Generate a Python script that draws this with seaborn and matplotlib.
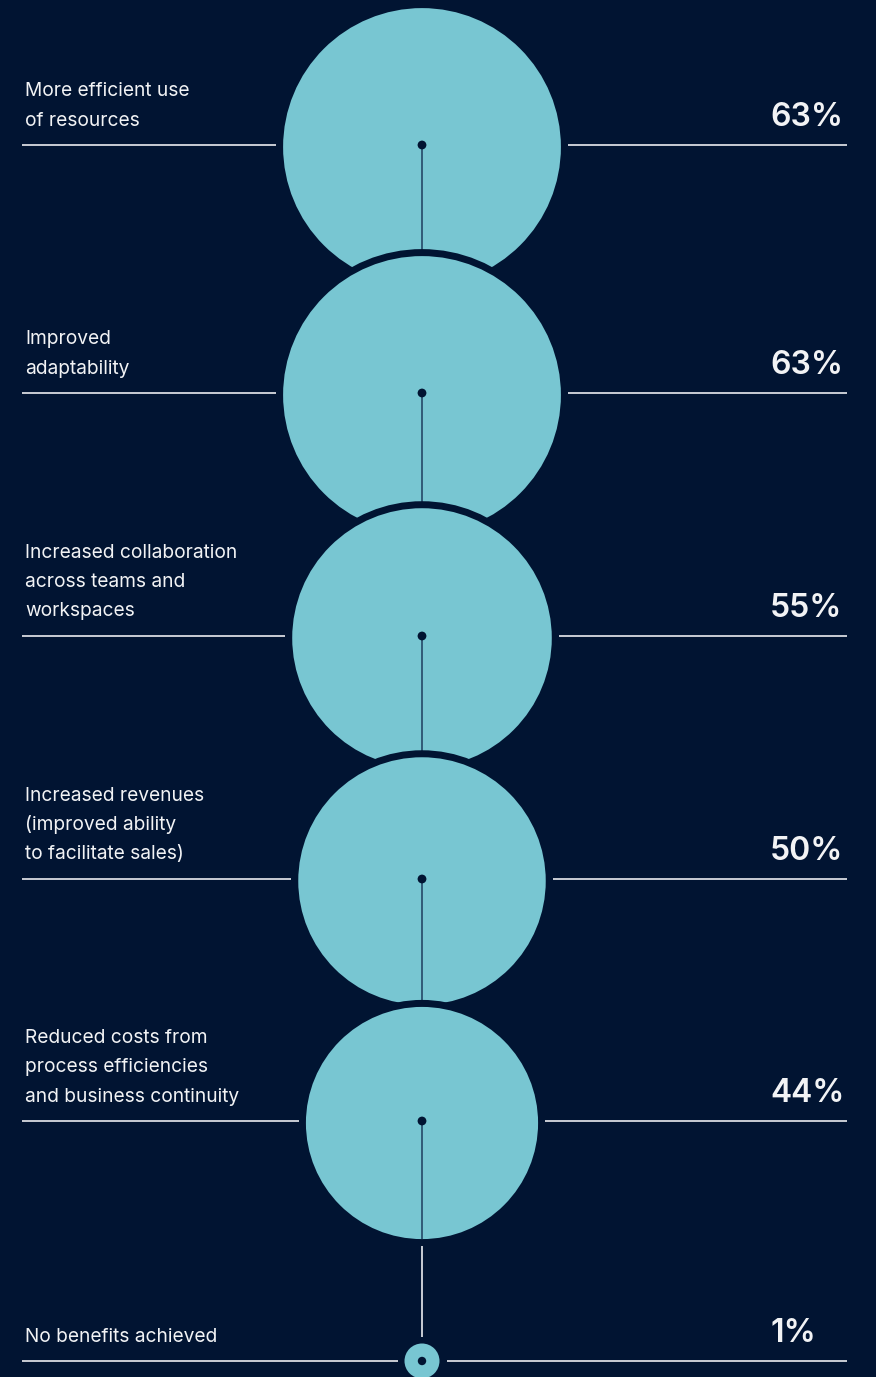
import matplotlib

matplotlib.use("Agg")
import matplotlib.pyplot as plt
from matplotlib.patches import Circle
import numpy as np
import pandas as pd
import seaborn as sns

# data
LABELS = [
    ["More efficient use", "of resources"],
    ["Improved", "adaptability"],
    ["Increased collaboration", "across teams and", "workspaces"],
    ["Increased revenues", "(improved ability", "to facilitate sales)"],
    ["Reduced costs from", "process efficiencies", "and business continuity"],
    ["No benefits achieved"],
]
SHARES = [63, 63, 55, 50, 44, 1]
SHARE_TEXT = ["63%", "63%", "55%", "50%", "44%", "1%"]

# layout (pixel coordinates, y grows downward)
W, H = 876, 1377
ROW_Y = [145, 393, 636, 879, 1121, 1361]
CX = 422
RADIUS_PER_SQRT = 17.5
LINE_X0, LINE_X1 = 22, 847
GAP = 7
TEXT_X = 25
PCT_X = 770
LINE_STEP = 29.3
DROP = 2  # bubbles sit a touch below their rule

BG = "#011432"
CYAN = "#78C6D2"
STEM = "#1F3D5E"
RULE = "#C9CDD5"
TEXT = "#F2F3F5"

sns.set_theme(style="white")
plt.rcParams["font.family"] = ["Inter", "DejaVu Sans"]

df = pd.DataFrame({"share": SHARES, "y": ROW_Y})
df["r"] = RADIUS_PER_SQRT * np.sqrt(df["share"])
df["x"] = CX

fig = plt.figure(figsize=(W / 100, H / 100), dpi=100, facecolor=BG)
ax = fig.add_axes([0, 0, 1, 1])
ax.set_facecolor(BG)
ax.set_xlim(0, W)
ax.set_ylim(H, 0)
ax.axis("off")

big = df.iloc[:-1]
for i, row in big.iterrows():
    z = 2 + 3 * i
    cy = row.y + DROP
    # dark ring separating from the circle above
    ax.add_patch(Circle((row.x, cy), row.r + 7, color=BG, lw=0, zorder=z))
    ax.add_patch(Circle((row.x, cy), row.r, color=CYAN, lw=0, zorder=z + 0.5))
    ax.plot([row.x, row.x], [row.y, cy + row.r], color=STEM, lw=1.1,
            solid_capstyle="butt", zorder=z + 1)

sns.scatterplot(data=big, x="x", y="y", s=40, color=BG, edgecolor="none",
                zorder=50, ax=ax, legend=False)

# last tiny bubble
last = df.iloc[-1]
prev = df.iloc[-2]
ax.plot([CX, CX], [prev.y + DROP + prev.r + 7, last.y - last.r - 7], color=RULE,
        lw=1.4, solid_capstyle="butt", zorder=40)
ax.add_patch(Circle((last.x, last.y), last.r, color=CYAN, lw=0, zorder=41))
ax.add_patch(Circle((last.x, last.y), 4.2, color=BG, lw=0, zorder=42))

# rules and labels
for i, row in df.iterrows():
    ax.plot([LINE_X0, CX - row.r - GAP], [row.y, row.y], color=RULE, lw=1.4,
            solid_capstyle="butt", zorder=60)
    ax.plot([CX + row.r + GAP, LINE_X1], [row.y, row.y], color=RULE, lw=1.4,
            solid_capstyle="butt", zorder=60)
    lines = LABELS[i]
    for j, txt in enumerate(lines):
        yb = row.y - 19.5 - (len(lines) - 1 - j) * LINE_STEP
        ax.text(TEXT_X, yb, txt, color=TEXT, fontsize=13.8, ha="left",
                va="baseline", zorder=70)
    ax.text(PCT_X, row.y - 19, SHARE_TEXT[i], color=TEXT, fontsize=23,
            fontweight="semibold", ha="left", va="baseline", zorder=70)

fig.savefig("out.png", dpi=100, facecolor=BG)
